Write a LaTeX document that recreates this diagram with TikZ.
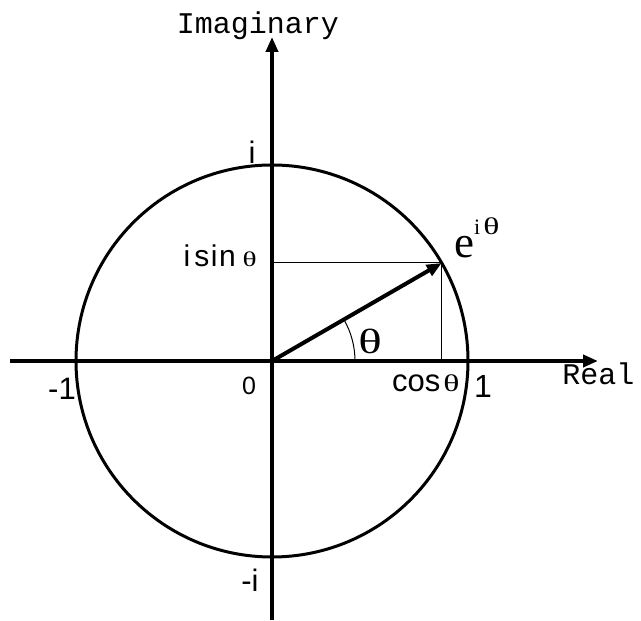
\documentclass[tikz,border=0pt]{standalone}
\usepackage{fontspec}
\usepackage{graphicx}
\setmainfont{Liberation Sans}
\newfontfamily\seriffont{Liberation Serif}
\newfontfamily\monofont{Liberation Mono}
\usetikzlibrary{arrows.meta,calc}
\newcommand\wtheta[1]{\scalebox{1.4}[1]{\seriffont\fontsize{#1}{#1}\selectfont θ}}
\begin{document}
\begin{tikzpicture}[x=1pt,y=1pt,
  axis/.style={line width=4pt,-{Triangle[length=15pt,width=12pt]}},
  vec/.style={line width=4pt,-{Triangle[length=15pt,width=12pt]}},
  thin/.style={line width=1pt},
  lbl/.style={inner sep=0pt,anchor=base,font=\fontsize{31}{31}\selectfont},
  mono/.style={inner sep=0pt,anchor=base,font=\monofont\fontsize{30}{30}\selectfont},
]
\useasboundingbox (0,0) rectangle (641,621);
\coordinate (O) at (272,260);
\coordinate (XL) at (10,260);
\coordinate (XR) at (598,260);
\coordinate (YB) at (272,1);
\coordinate (YT) at (272,584);
\coordinate (P) at ($(O)+(30:196)$);
\coordinate (PX) at (P|-O);
\coordinate (PY) at (P-|O);
% axes
\draw[axis] (XL) -- (XR);
\draw[axis] (YB) -- (YT);
% circle
\draw[line width=3pt] (O) circle[radius=196];
% projections
\draw[thin] (PY) -- (P);
\draw[thin] (P) -- (PX);
% vector
\draw[vec] (O) -- (P);
% angle arc
\draw[thin] ($(O)+(83,0)$) arc[start angle=0,end angle=30,radius=83];
% labels
\node[mono] (imag) at (258,587) {Imaginary};
\node[mono] (real) at (598.5,236) {Real};
\node[lbl] (m1) at (62,221) {-1};
\node[lbl,font=\fontsize{25}{25}\selectfont] (zero) at (249,226) {0};
\node[lbl,font=\fontsize{32}{32}\selectfont] (one) at (483,223) {1};
\node[lbl,anchor=base west] (cos) at (392,229) {cos\hspace{3pt}\wtheta{24}};
\node[lbl] (iu) at (252,457) {i};
\node[lbl] (mi) at (250,29) {-i};
\node[lbl,font=\fontsize{30}{30}\selectfont,anchor=base east] (isin) at (257,354) {i\hspace{4pt}s\hspace{1.5pt}i\hspace{1.5pt}n\hspace{7pt}\wtheta{21}};
\node[inner sep=0pt,anchor=base west] (eit) at (454,363) {\seriffont\fontsize{45}{45}\selectfont e\raisebox{23pt}{\fontsize{22}{22}\selectfont i\hspace{3pt}\wtheta{24}}};
\node[inner sep=0pt] (th) at (370,279.5) {\wtheta{35}};
\end{tikzpicture}
\end{document}
